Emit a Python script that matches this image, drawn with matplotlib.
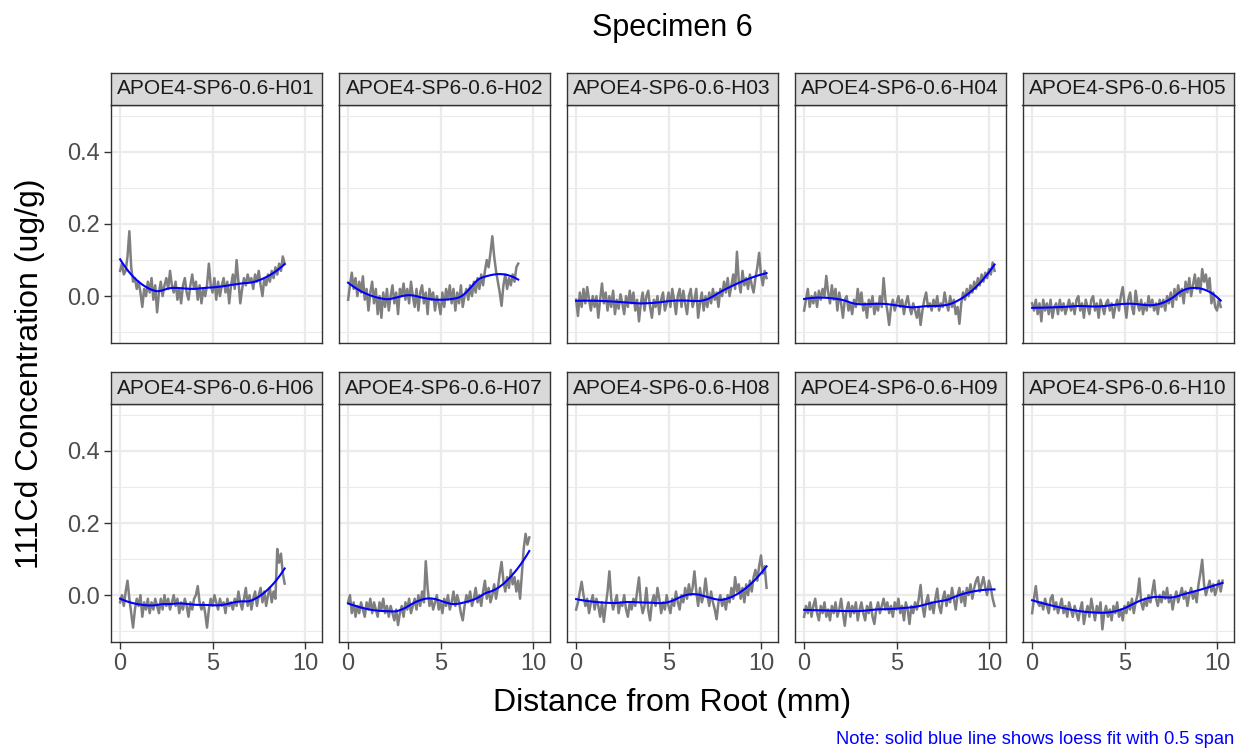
import numpy as np
import matplotlib
matplotlib.use("Agg")
import matplotlib.pyplot as plt

plt.rcParams['font.family'] = ['Liberation Sans', 'DejaVu Sans']

# readings of each hole profile, one value every 0.1 mm from the root
step_mm = 0.1
names = ['APOE4-SP6-0.6-H01', 'APOE4-SP6-0.6-H02', 'APOE4-SP6-0.6-H03',
         'APOE4-SP6-0.6-H04', 'APOE4-SP6-0.6-H05', 'APOE4-SP6-0.6-H06',
         'APOE4-SP6-0.6-H07', 'APOE4-SP6-0.6-H08', 'APOE4-SP6-0.6-H09',
         'APOE4-SP6-0.6-H10']

h01 = [0.07, 0.09, 0.06, 0.07, 0.11, 0.18, 0.08, 0.04, 0.05, 0.02,
       0.04, 0.01, -0.03, 0.02, 0.00, 0.04, 0.01, 0.05, -0.01, 0.03,
       -0.045, 0.01, 0.04, 0.00, 0.03, 0.05, 0.02, 0.07, 0.03, 0.01,
       0.04, -0.01, 0.02, -0.02, 0.03, 0.05, 0.01, -0.01, 0.03, 0.06,
       0.02, 0.04, -0.01, 0.03, -0.02, 0.02, 0.00, 0.03, 0.09, 0.03,
       0.01, 0.05, -0.01, 0.04, 0.00, 0.03, 0.05, 0.01, 0.04, -0.02,
       0.03, 0.06, 0.02, 0.10, 0.04, -0.02, 0.02, 0.05, 0.03, 0.06,
       0.04, 0.05, 0.02, 0.06, 0.04, 0.07, 0.03, 0.00, 0.05, 0.03,
       0.06, 0.04, 0.07, 0.05, 0.08, 0.06, 0.09, 0.07, 0.11, 0.09]
h02 = [-0.01, 0.03, 0.065, 0.02, 0.05, 0.00, 0.04, 0.01, 0.055, -0.01,
       0.02, -0.04, 0.01, 0.04, -0.02, 0.02, -0.05, 0.00, -0.06, 0.01,
       -0.03, 0.02, -0.04, 0.00, 0.03, -0.02, 0.01, -0.05, 0.02, 0.00,
       0.035, -0.01, 0.02, -0.02, 0.04, 0.00, -0.03, 0.02, -0.04, 0.01,
       0.03, -0.02, 0.01, -0.05, 0.02, -0.01, 0.01, -0.04, 0.00, -0.02,
       -0.05, 0.01, -0.03, 0.02, -0.01, 0.03, -0.02, 0.02, -0.04, 0.01,
       -0.02, 0.03, -0.03, 0.00, 0.02, -0.01, 0.03, 0.00, 0.04, 0.01,
       0.05, 0.02, 0.06, 0.03, 0.07, 0.10, 0.08, 0.12, 0.166, 0.11,
       0.07, 0.04, 0.01, -0.027, 0.03, 0.06, 0.02, 0.05, 0.03, 0.06,
       0.04, 0.08, 0.09]
h03 = [-0.01, -0.055, 0.01, -0.03, 0.02, -0.02, 0.025, -0.01, -0.04, 0.00,
       -0.03, 0.00, -0.06, -0.01, 0.035, -0.02, 0.01, -0.04, 0.00, -0.03,
       0.015, -0.05, -0.01, -0.035, 0.005, -0.02, -0.05, 0.00, -0.03, 0.015,
       -0.02, 0.01, -0.04, -0.01, -0.07, -0.02, 0.01, -0.04, 0.00, 0.015,
       -0.03, -0.06, -0.01, -0.03, 0.00, -0.05, -0.01, 0.01, -0.04, -0.02,
       0.01, -0.03, 0.02, -0.01, -0.05, 0.00, 0.02, -0.03, 0.015, -0.02,
       -0.05, 0.00, 0.02, -0.03, -0.01, 0.02, -0.06, -0.02, 0.01, -0.04,
       0.00, -0.03, 0.01, -0.02, 0.02, -0.01, 0.01, -0.03, 0.02, 0.00,
       0.04, 0.01, 0.05, 0.00, 0.03, 0.06, 0.02, 0.123, 0.04, 0.01,
       0.07, 0.03, 0.05, 0.02, 0.06, 0.03, 0.01, 0.05, 0.08, 0.12,
       0.06, 0.03, 0.07, 0.05]
h04 = [-0.04, -0.01, 0.02, -0.03, 0.00, -0.02, 0.01, -0.03, 0.015, -0.01,
       0.02, 0.00, 0.056, 0.01, -0.02, 0.03, -0.01, 0.02, -0.04, 0.01,
       -0.02, -0.06, -0.01, 0.00, -0.04, -0.02, -0.05, -0.01, -0.03, 0.02,
       -0.02, 0.01, -0.04, -0.02, -0.06, -0.01, -0.03, 0.00, -0.05, -0.02,
       -0.04, 0.00, -0.03, 0.05, -0.01, -0.04, -0.08, -0.03, -0.01, -0.04,
       -0.02, 0.00, -0.03, -0.01, -0.05, -0.02, 0.00, -0.03, -0.05, -0.02,
       -0.04, -0.06, -0.03, -0.08, -0.04, -0.01, 0.01, -0.03, -0.02, -0.04,
       -0.01, -0.03, 0.00, -0.04, -0.02, -0.03, 0.01, -0.02, -0.04, 0.00,
       -0.03, -0.01, -0.05, -0.03, -0.077, -0.02, 0.01, -0.01, 0.02, 0.00,
       0.03, 0.01, 0.04, 0.02, 0.05, 0.03, 0.06, 0.04, 0.065, 0.05,
       0.075, 0.06, 0.093, 0.07]
h05 = [-0.02, -0.04, -0.01, -0.05, -0.02, -0.07, -0.01, -0.04, -0.02, -0.05,
       -0.01, -0.06, -0.03, -0.02, -0.05, -0.01, -0.04, -0.02, -0.05, -0.03,
       -0.01, -0.04, -0.02, -0.05, -0.01, 0.00, -0.04, -0.02, -0.06, -0.01,
       -0.03, -0.05, -0.01, 0.00, -0.04, -0.02, -0.06, -0.01, -0.03, -0.05,
       -0.02, -0.01, -0.04, -0.02, -0.06, -0.03, -0.01, -0.04, 0.00, 0.025,
       -0.02, -0.06, -0.01, 0.01, -0.03, -0.05, 0.015, -0.02, -0.04, -0.01,
       -0.05, -0.02, -0.04, 0.00, -0.03, -0.01, -0.04, -0.02, -0.05, -0.01,
       -0.03, -0.01, -0.04, 0.00, -0.02, 0.01, -0.03, 0.02, -0.01, 0.03,
       0.00, 0.02, -0.02, 0.04, 0.01, 0.05, 0.00, 0.03, 0.06, 0.02,
       0.05, 0.01, 0.075, 0.04, 0.06, 0.02, 0.05, -0.02, 0.01, -0.03,
       -0.04, -0.01, -0.03]
h06 = [-0.02, 0.00, -0.03, 0.01, 0.04, -0.01, -0.05, -0.09, -0.04, -0.01,
       -0.03, 0.00, -0.06, -0.02, -0.04, -0.01, -0.05, -0.02, -0.04, -0.01,
       -0.03, -0.05, -0.01, -0.04, 0.00, -0.03, -0.01, -0.04, -0.02, 0.00,
       -0.03, -0.01, -0.05, -0.02, -0.04, -0.01, -0.03, -0.06, -0.02, -0.04,
       -0.01, 0.00, 0.025, -0.02, -0.04, -0.02, -0.05, -0.09, -0.04, -0.01,
       -0.03, 0.00, -0.02, -0.04, -0.01, -0.03, -0.02, -0.05, -0.01, -0.03,
       -0.02, -0.04, -0.01, -0.03, 0.01, -0.02, -0.04, -0.01, 0.02, -0.03,
       0.00, -0.04, -0.01, 0.01, -0.03, 0.00, 0.02, -0.02, 0.01, -0.03,
       0.00, 0.02, -0.02, 0.01, -0.01, 0.128, 0.09, 0.115, 0.06, 0.032]
h07 = [-0.02, 0.00, -0.05, -0.02, -0.06, -0.03, -0.05, -0.02, -0.04, -0.06,
       -0.02, -0.04, -0.01, -0.05, -0.02, -0.04, -0.06, -0.02, -0.04, -0.01,
       -0.05, -0.03, -0.06, -0.03, -0.05, -0.07, -0.04, -0.083, -0.05, -0.03,
       -0.06, -0.02, -0.04, -0.01, -0.05, -0.03, -0.01, -0.04, 0.00, -0.03,
       0.01, -0.02, 0.094, 0.02, -0.03, -0.01, -0.04, -0.02, 0.00, -0.04,
       -0.02, -0.05, -0.01, -0.03, 0.00, -0.04, -0.02, 0.01, -0.03, 0.00,
       -0.02, -0.05, -0.07, -0.03, 0.00, -0.02, 0.01, -0.03, -0.01, 0.02,
       -0.02, 0.00, -0.03, 0.01, 0.04, -0.01, 0.02, -0.02, 0.00, 0.03,
       -0.01, 0.02, 0.06, 0.092, 0.04, 0.01, 0.05, 0.02, 0.07, 0.03,
       0.05, 0.01, 0.04, -0.01, 0.06, 0.13, 0.17, 0.14, 0.16]
h08 = [-0.04, -0.02, 0.01, 0.037, 0.00, -0.03, -0.01, -0.05, -0.02, 0.00,
       -0.04, -0.01, -0.03, -0.06, -0.02, -0.074, -0.03, 0.01, 0.066, -0.01,
       -0.04, -0.02, 0.00, -0.05, -0.02, -0.03, 0.00, -0.04, -0.06, -0.02,
       -0.04, -0.01, -0.03, 0.01, 0.049, -0.02, -0.05, -0.03, 0.02, -0.04,
       -0.07, -0.02, 0.00, -0.03, 0.02, -0.01, -0.05, -0.02, -0.04, 0.00,
       -0.03, -0.05, -0.01, -0.03, 0.01, -0.02, -0.04, 0.00, -0.02, 0.02,
       -0.01, 0.03, 0.00, 0.02, 0.066, 0.01, -0.03, 0.02, -0.02, 0.00,
       0.046, 0.00, -0.03, 0.01, -0.02, -0.04, -0.067, -0.02, 0.00, -0.03,
       -0.01, -0.04, 0.00, -0.02, 0.02, -0.01, 0.05, 0.01, 0.03, -0.01,
       0.02, -0.02, 0.03, 0.00, 0.04, 0.01, 0.05, 0.07, 0.04, 0.08,
       0.11, 0.06, 0.08, 0.02]
h09 = [-0.06, -0.03, -0.05, -0.02, -0.06, -0.03, -0.01, -0.05, -0.07, -0.03,
       -0.05, -0.02, -0.06, -0.04, -0.07, -0.03, -0.05, -0.02, -0.06, -0.04,
       -0.01, -0.05, -0.085, -0.04, -0.02, -0.06, -0.03, -0.05, -0.02, -0.07,
       -0.04, -0.02, -0.05, -0.07, -0.03, -0.05, -0.02, -0.06, -0.08, -0.04,
       -0.02, -0.05, -0.03, -0.01, -0.04, -0.02, -0.05, -0.03, -0.06, -0.02,
       -0.04, -0.01, -0.05, -0.03, -0.07, -0.02, -0.04, -0.08, -0.03, -0.05,
       -0.02, -0.04, -0.01, 0.028, -0.03, -0.06, -0.02, 0.00, -0.04, -0.02,
       -0.05, -0.01, 0.018, -0.03, -0.05, -0.01, 0.01, -0.03, 0.00, -0.02,
       0.02, -0.01, -0.04, 0.00, 0.02, -0.02, 0.01, -0.03, 0.02, 0.00,
       0.03, -0.01, 0.02, 0.04, 0.05, 0.01, 0.03, 0.05, 0.02, 0.00,
       0.04, 0.02, -0.01, -0.03]
h10 = [-0.05, -0.01, 0.025, -0.02, -0.03, -0.02, -0.04, -0.01, -0.03, -0.05,
       -0.01, 0.00, -0.04, -0.02, -0.05, -0.03, -0.01, -0.05, -0.03, -0.06,
       -0.02, -0.04, -0.06, -0.03, -0.05, -0.07, -0.04, -0.02, -0.08, -0.05,
       -0.03, -0.06, -0.01, -0.04, -0.07, -0.03, -0.05, -0.02, -0.095, -0.05,
       -0.03, -0.06, -0.04, -0.07, -0.03, -0.05, -0.02, -0.06, -0.04, -0.07,
       -0.03, -0.05, -0.02, -0.04, -0.01, -0.05, -0.02, 0.00, 0.046, -0.02,
       -0.04, -0.01, -0.03, 0.00, -0.02, 0.01, 0.041, -0.01, -0.03, 0.00,
       -0.02, 0.01, -0.01, 0.02, -0.02, 0.00, -0.04, -0.01, 0.01, -0.02,
       0.00, 0.02, -0.01, 0.01, -0.03, 0.00, 0.02, -0.01, 0.01, -0.02,
       0.03, 0.06, 0.098, 0.03, 0.00, 0.02, 0.04, 0.01, 0.03, 0.00,
       0.02, 0.04, 0.01, 0.04]

series = [h01, h02, h03, h04, h05, h06, h07, h08, h09, h10]

x_ticks = [0, 5, 10]
y_ticks = [0.0, 0.2, 0.4]
y_minor = [-0.1, 0.1, 0.3, 0.5]
span = 0.5


def loess(x, y, span=0.5, n_out=80):
    # local quadratic fit with tricube weights, like R's loess default
    n = len(x)
    q = int(np.floor(span * n))
    xs = np.linspace(x.min(), x.max(), n_out)
    fit = []
    for x0 in xs:
        d = np.abs(x - x0)
        h = np.sort(d)[q - 1]
        w = np.clip(1 - (d / h) ** 3, 0, None) ** 3
        X = np.vstack([np.ones(n), x - x0, (x - x0) ** 2]).T
        sw = np.sqrt(w)
        beta = np.linalg.lstsq(X * sw[:, None], y * sw, rcond=None)[0]
        fit.append(beta[0])
    return xs, np.array(fit)


W, H = 1238, 750
fig = plt.figure(figsize=(W / 100, H / 100), dpi=100)

panel_left = [110.5 + i * 228 for i in range(5)]
row_top = [105, 404]
pw, ph, strip_h = 211.5, 238, 32

for idx, (name, vals) in enumerate(zip(names, series)):
    r, c = divmod(idx, 5)
    l, t = panel_left[c], row_top[r]
    ax = fig.add_axes([l / W, 1 - (t + ph) / H, pw / W, ph / H])
    sax = fig.add_axes([l / W, 1 - t / H, pw / W, strip_h / H])

    y = np.array(vals)
    x = np.arange(len(y)) * step_mm
    ax.plot(x, y, color='#7F7F7F', lw=1.8, zorder=3)
    xs, ys = loess(x, y, span)
    ax.plot(xs, ys, color='#0000FF', lw=1.5, zorder=4)

    ax.set_xlim(-0.52, 10.92)
    ax.set_ylim(-0.13, 0.53)
    ax.set_xticks(x_ticks)
    ax.set_xticklabels([str(v) for v in x_ticks])
    ax.set_yticks(y_ticks)
    ax.set_yticklabels(['%.1f' % v for v in y_ticks])
    ax.set_yticks(y_minor, minor=True)
    ax.grid(True, which='major', color='#EBEBEB', lw=1.6, zorder=0)
    ax.grid(True, which='minor', axis='y', color='#EBEBEB', lw=0.8, zorder=0)
    ax.set_axisbelow(True)
    for s in ax.spines.values():
        s.set_color('#333333')
        s.set_linewidth(1.0)
    ax.tick_params(which='major', length=5, width=1, color='#333333',
                   labelsize=17, labelcolor='#4D4D4D', pad=3)
    ax.tick_params(which='minor', length=0)
    if c > 0:
        ax.tick_params(left=False, labelleft=False)
    if r == 0:
        ax.tick_params(bottom=False, labelbottom=False)

    sax.set_facecolor('#D9D9D9')
    sax.set_xticks([])
    sax.set_yticks([])
    for s in sax.spines.values():
        s.set_color('#333333')
        s.set_linewidth(1.0)
    sax.text(0.5, 0.5, name, ha='center', va='center', fontsize=15,
             color='#1A1A1A', transform=sax.transAxes)

cx = (panel_left[0] + panel_left[-1] + pw) / 2 / W
fig.text(cx, 1 - 28 / H, 'Specimen 6', ha='center', va='center', fontsize=22)
fig.text(cx, 1 - 703 / H, 'Distance from Root (mm)', ha='center', va='center',
         fontsize=23)
fig.text(30 / W, 1 - 373.5 / H, '111Cd Concentration (ug/g)', ha='center',
         va='center', rotation=90, fontsize=23)
fig.text(1234 / W, 1 - 740 / H, 'Note: solid blue line shows loess fit with 0.5 span',
         ha='right', va='center', fontsize=13.2, color='#0000FF')

fig.savefig('out.png', dpi=100)
